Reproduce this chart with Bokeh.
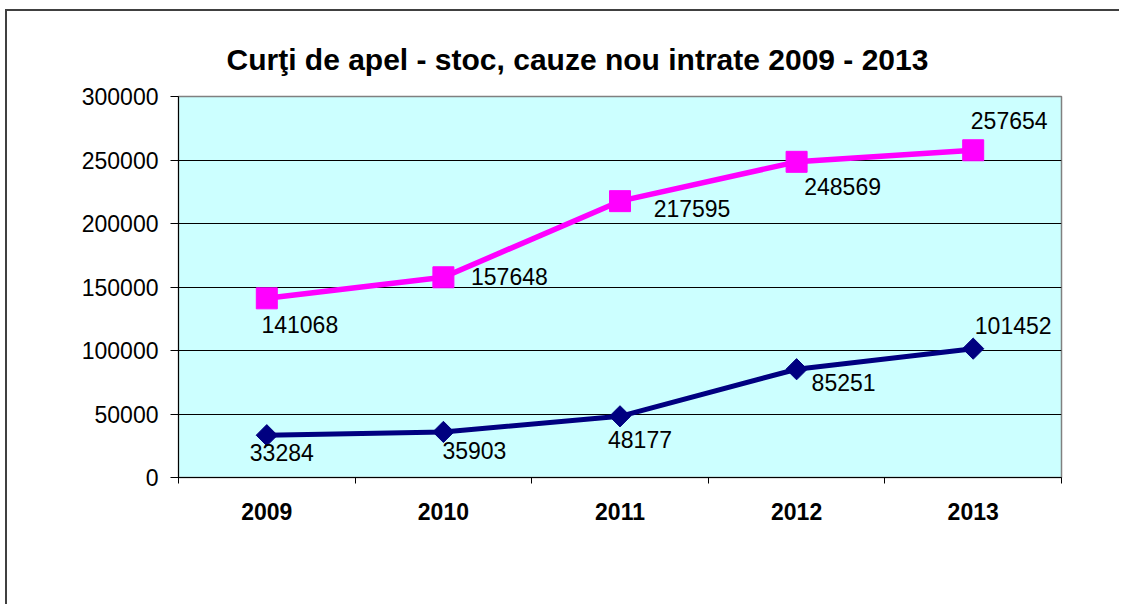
from bokeh.plotting import figure
from bokeh.models import (Range1d, FixedTicker, NumeralTickFormatter, Legend,
                          LegendItem, ColumnDataSource)
from bokeh.core.properties import value
from bokeh.embed import file_html
from bokeh.resources import INLINE

# ---- data ----
years = ["2009", "2010", "2011", "2012", "2013"]
stoc = [33284, 35903, 48177, 85251, 101452]
nou_intrate = [141068, 157648, 217595, 248569, 257654]
y_ticks = [0, 50000, 100000, 150000, 200000, 250000, 300000]
title_text = "Curţi de apel - stoc, cauze nou intrate 2009 - 2013"
name_stoc = "cauze în stoc"
name_nou = "cauze nou intrate"

# ---- label placement (pixels, relative to the point) ----
stoc_dx = [15, 31, 20, 47, 40]
stoc_dy = [17, 19, 23, 13, -23]
nou_dx = [33, 66, 72, 46, 36]
nou_dy = [26, -1, 7, 25, -30]

FONT = "Liberation Sans"
NAVY = "#000080"
MAGENTA = "#FF00FF"

# category slots: each year occupies one unit, centred at i + 0.5
n = len(years)
xc = [i + 0.5 for i in range(n)]

p = figure(x_range=Range1d(0, n), y_range=Range1d(0, 300000),
           frame_width=883, frame_height=381,
           output_backend="svg", toolbar_location=None,
           min_border_left=171, min_border_right=58,
           min_border_top=85, min_border_bottom=0)
p.styles = {"margin-left": "5px", "margin-top": "9px",
            "border-left": "2px solid #404040", "border-top": "2px solid #404040"}

p.background_fill_color = "#CCFFFF"
p.border_fill_color = "white"
p.outline_line_color = "#808080"
p.outline_line_width = 1.5

# title
p.title.text = title_text
p.title.align = "left"
p.title.offset = 48
p.title.standoff = 42
p.title.text_font = FONT
p.title.text_font_size = "30px"
p.title.text_font_style = "bold"
p.title.text_color = "black"

# y axis
yax = p.yaxis[0]
yax.ticker = FixedTicker(ticks=y_ticks)
yax.formatter = NumeralTickFormatter(format="0")
yax.axis_line_color = "black"
yax.major_tick_out = 8
yax.major_tick_in = 0
yax.minor_tick_line_color = None
yax.major_label_text_font = FONT
yax.major_label_text_font_size = "23px"
yax.major_label_text_color = "black"
yax.major_label_standoff = 12

# x axis: labels at slot centres, tick marks at slot boundaries
xax = p.xaxis[0]
xax.ticker = FixedTicker(ticks=xc, minor_ticks=list(range(n + 1)))
xax.major_label_overrides = {c: y for c, y in zip(xc, years)}
xax.major_tick_line_color = None
xax.major_tick_out = 0
xax.major_tick_in = 0
xax.minor_tick_out = 6
xax.minor_tick_in = 0
xax.minor_tick_line_color = "black"
xax.axis_line_color = "black"
xax.major_label_text_font = FONT
xax.major_label_text_font_size = "23px"
xax.major_label_text_font_style = "bold"
xax.major_label_text_color = "black"
xax.major_label_standoff = 19

# grid
p.xgrid.grid_line_color = None
p.ygrid.ticker = FixedTicker(ticks=y_ticks[1:-1])
p.ygrid.grid_line_color = "black"
p.ygrid.grid_line_width = 1

# series
l1 = p.line(xc, stoc, line_color=NAVY, line_width=5)
m1 = p.scatter(xc, stoc, marker="square", size=15, angle=0.785398,
               fill_color=NAVY, line_color=NAVY)
l2 = p.line(xc, nou_intrate, line_color=MAGENTA, line_width=5.5)
m2 = p.scatter(xc, nou_intrate, marker="square", size=21,
               fill_color=MAGENTA, line_color=MAGENTA)

# data labels
src1 = ColumnDataSource(dict(x=xc, y=stoc, t=[str(v) for v in stoc],
                             dx=stoc_dx, dy=stoc_dy))
src2 = ColumnDataSource(dict(x=xc, y=nou_intrate, t=[str(v) for v in nou_intrate],
                             dx=nou_dx, dy=nou_dy))
for src in (src1, src2):
    p.text(x="x", y="y", text="t", x_offset="dx", y_offset="dy", source=src,
           text_font=value(FONT), text_font_size=value("23px"),
           text_color="black", text_align="center", text_baseline="middle")

# legend
legend = Legend(items=[LegendItem(label=name_stoc, renderers=[l1, m1]),
                       LegendItem(label=name_nou, renderers=[l2, m2])],
                orientation="horizontal", location="center",
                label_text_font=FONT, label_text_font_size="24px",
                label_text_color="black", label_standoff=5,
                glyph_width=56, glyph_height=36, label_height=24,
                spacing=30, padding=4, margin=8,
                border_line_color="black", border_line_width=1,
                background_fill_color="white", background_fill_alpha=1)
p.add_layout(legend, "below")

open("out.html", "w").write(file_html(p, INLINE))
